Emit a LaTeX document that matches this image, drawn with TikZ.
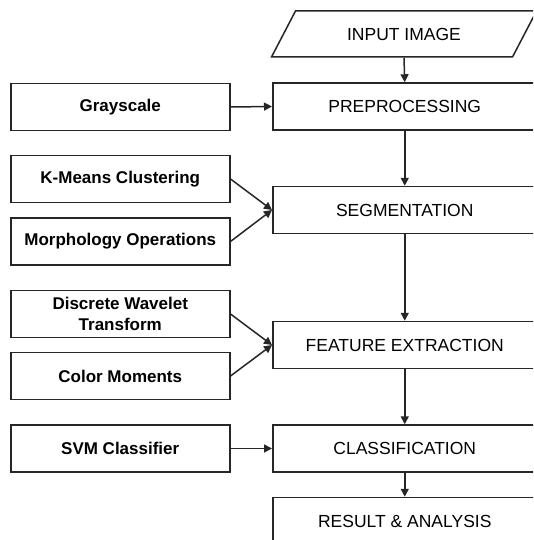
\documentclass[tikz,border=0pt]{standalone}
\usepackage{fontspec}
\setmainfont{Liberation Sans}
\usetikzlibrary{arrows.meta}
\begin{document}
\begin{tikzpicture}[x=1pt,y=-1pt,
  line width=1.5pt,
  box/.style={draw=black!85, rectangle, minimum height=47pt, inner sep=0pt, font=\fontsize{17.5}{21}\selectfont},
  mainbox/.style={box, minimum width=264pt, anchor=west},
  sidebox/.style={box, minimum width=219pt, align=center, anchor=west, font=\bfseries\fontsize{17}{21.5}\selectfont},
  arr/.style={draw=black!85, -{Triangle[length=8pt,width=8pt]}}]
\useasboundingbox (0,0) rectangle (533,540);
\clip (0,0) rectangle (533,540);
% main column
\node[minimum height=46pt, inner sep=0pt, font=\fontsize{17.5}{21}\selectfont] (input) at (404,34) {INPUT IMAGE};
\draw[black!85] (271.5,57) -- (512.5,57) -- (536.5,11) -- (295.5,11) -- cycle;
\node[mainbox] (prep) at (272,106.5) {PREPROCESSING};
\node[mainbox] (seg)  at (272,210)   {SEGMENTATION};
\node[mainbox] (feat) at (272,345)   {FEATURE EXTRACTION};
\node[mainbox] (cls)  at (272,448.5) {CLASSIFICATION};
\node[mainbox] (res)  at (272,521)   {RESULT \& ANALYSIS};
% side column
\node[sidebox] (gray)   at (10,107)   {Grayscale};
\node[sidebox] (kmeans) at (10,179)   {K-Means Clustering};
\node[sidebox] (morph)  at (10,241.5) {Morphology Operations};
\node[sidebox] (dwt)    at (10,314)   {Discrete Wavelet\\Transform};
\node[sidebox] (cm)     at (10,376)   {Color Moments};
\node[sidebox] (svm)    at (10,448.5) {SVM Classifier};
% vertical flow
\draw[arr] (input.south) -- (prep.north);
\draw[arr] (prep.south) -- (seg.north);
\draw[arr] (seg.south) -- (feat.north);
\draw[arr] (feat.south) -- (cls.north);
\draw[arr] (cls.south) -- (res.north);
% side inputs
\draw[arr] (gray.east) -- (prep.west);
\draw[arr] (kmeans.east) -- (seg.west);
\draw[arr] (morph.east) -- (seg.west);
\draw[arr] (dwt.east) -- (feat.west);
\draw[arr] (cm.east) -- (feat.west);
\draw[arr] (svm.east) -- (cls.west);
\end{tikzpicture}
\end{document}
